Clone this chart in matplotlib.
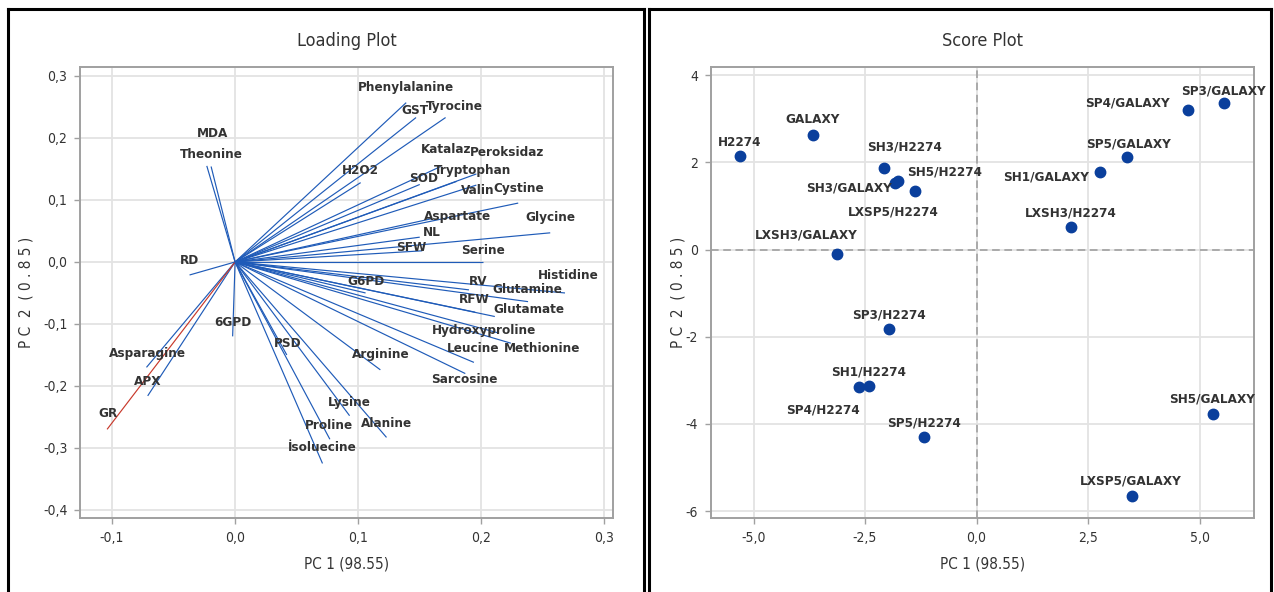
import matplotlib
matplotlib.use("Agg")
import matplotlib.pyplot as plt
from matplotlib import font_manager
from matplotlib.ticker import FixedLocator, FuncFormatter
from matplotlib.lines import Line2D

# ---------------- data ----------------
loading_names = [
    "Phenylalanine", "GST", "Tyrocine", "MDA", "Theonine", "H2O2", "Katalaz",
    "Peroksidaz", "SOD", "Tryptophan", "Valin", "Cystine", "Aspartate", "Glycine",
    "NL", "SFW", "Serine", "RD", "G6PD", "RV", "Glutamine", "Histidine", "RFW",
    "Glutamate", "6GPD", "Hydroxyproline", "Methionine", "PSD", "Leucine",
    "Arginine", "Asparagine", "Sarcosine", "APX", "GR", "Lysine", "Alanine",
    "Proline", "İsoluecine",
]
pc1_loading = [
    0.139, 0.147, 0.171, -0.0195, -0.023, 0.102, 0.167,
    0.196, 0.150, 0.180, 0.196, 0.230, 0.160, 0.256,
    0.150, 0.152, 0.201, -0.037, 0.106, 0.190, 0.238, 0.268, 0.195,
    0.211, -0.002, 0.213, 0.224, 0.042, 0.194,
    0.118, -0.072, 0.187, -0.071, -0.104, 0.093, 0.123,
    0.077, 0.071,
]
pc2_loading = [
    0.257, 0.233, 0.233, 0.154, 0.155, 0.128, 0.154,
    0.142, 0.125, 0.130, 0.124, 0.095, 0.070, 0.047,
    0.040, 0.018, 0.000, -0.021, -0.050, -0.045, -0.064, -0.050, -0.081,
    -0.088, -0.120, -0.114, -0.131, -0.150, -0.162,
    -0.174, -0.170, -0.180, -0.216, -0.270, -0.248, -0.283,
    -0.286, -0.325,
]
# where each loading name is written
loading_text_pc1 = [
    0.139, 0.146, 0.178, -0.018, -0.019, 0.102, 0.1715,
    0.221, 0.153, 0.193, 0.197, 0.230, 0.181, 0.256,
    0.160, 0.143, 0.201, -0.037, 0.1065, 0.1976, 0.237, 0.271, 0.194,
    0.239, -0.0016, 0.2024, 0.249, 0.043, 0.1935,
    0.1187, -0.0715, 0.186, -0.0707, -0.103, 0.0927, 0.1228,
    0.0764, 0.0707,
]
loading_text_pc2 = [
    0.281, 0.244, 0.250, 0.208, 0.174, 0.148, 0.181,
    0.176, 0.135, 0.148, 0.116, 0.118, 0.074, 0.071,
    0.048, 0.024, 0.019, 0.003, -0.031, -0.031, -0.044, -0.022, -0.060,
    -0.076, -0.097, -0.111, -0.139, -0.131, -0.140,
    -0.150, -0.147, -0.189, -0.1935, -0.245, -0.226, -0.260,
    -0.263, -0.300,
]

score_names = [
    "H2274", "GALAXY", "SH3/H2274", "SH3/GALAXY", "LXSP5/H2274", "SH5/H2274",
    "LXSH3/GALAXY", "SP4/GALAXY", "SP3/GALAXY", "SP5/GALAXY", "SH1/GALAXY",
    "LXSH3/H2274", "SP3/H2274", "SH1/H2274", "SP4/H2274", "SP5/H2274",
    "SH5/GALAXY", "LXSP5/GALAXY",
]
pc1_score = [
    -5.31, -3.66, -2.07, -1.83, -1.76, -1.38,
    -3.12, 4.73, 5.545, 3.38, 2.765,
    2.115, -1.96, -2.42, -2.64, -1.18,
    5.29, 3.475,
]
pc2_score = [
    2.15, 2.64, 1.87, 1.53, 1.57, 1.34,
    -0.09, 3.20, 3.37, 2.12, 1.77,
    0.52, -1.83, -3.14, -3.16, -4.31,
    -3.77, -5.65,
]
score_text_pc1 = [
    -5.31, -3.67, -1.61, -2.86, -1.86, -0.71,
    -3.81, 3.39, 5.545, 3.41, 1.55,
    2.115, -1.97, -2.42, -3.45, -1.18,
    5.28, 3.46,
]
score_text_pc2 = [
    2.45, 2.98, 2.35, 1.41, 0.86, 1.77,
    0.33, 3.37, 3.64, 2.42, 1.66,
    0.84, -1.49, -2.80, -3.69, -3.99,
    -3.44, -5.30,
]

loading_xticks = [-0.1, 0.0, 0.1, 0.2, 0.3]
loading_yticks = [-0.4, -0.3, -0.2, -0.1, 0.0, 0.1, 0.2, 0.3]
score_xticks = [-5.0, -2.5, 0.0, 2.5, 5.0]
score_yticks = [-6, -4, -2, 0, 2, 4]

# ---------------- fonts ----------------
available = {f.name for f in font_manager.fontManager.ttflist}
if "Liberation Sans Narrow" in available:
    FAMILY = ["Liberation Sans Narrow", "DejaVu Sans"]
    STRETCH = "normal"
else:
    FAMILY = ["DejaVu Sans"]
    STRETCH = "condensed"
plt.rcParams["font.family"] = FAMILY
plt.rcParams["font.stretch"] = STRETCH

TEXT = "#333333"
GRID = "#e3e3e3"
SPINE = "#a0a0a0"
VEC = "#1f5bb8"
DOT = "#0a3f9c"
LABEL_SIZE = 9.6


def comma_fmt(decimals):
    def f(v, _pos):
        s = f"{v:.{decimals}f}".replace(".", ",")
        if s.startswith("-") and float(v) == 0:
            s = s[1:]
        return s
    return FuncFormatter(f)


def style_axes(ax, xticks, yticks, xdec, ydec):
    ax.xaxis.set_major_locator(FixedLocator(xticks))
    ax.yaxis.set_major_locator(FixedLocator(yticks))
    ax.xaxis.set_major_formatter(comma_fmt(xdec))
    ax.yaxis.set_major_formatter(comma_fmt(ydec))
    ax.grid(True, color=GRID, linewidth=1.3, zorder=0)
    ax.set_axisbelow(True)
    for sp in ax.spines.values():
        sp.set_color(SPINE)
        sp.set_linewidth(1.4)
    ax.tick_params(axis="both", colors=SPINE, labelcolor=TEXT, labelsize=10,
                   length=4, width=1, direction="out", pad=5)
    ax.tick_params(top=False, right=False)


fig = plt.figure(figsize=(12.74, 5.92), dpi=100)
W, H = 1274.0, 592.0

# ---------------- loading plot ----------------
axL = fig.add_axes([80 / W, 1 - 518 / H, 533 / W, 451 / H])
axL.set_xlim(-0.126, 0.307)
axL.set_ylim(-0.413, 0.3145)
style_axes(axL, loading_xticks, loading_yticks, 1, 1)

for name, x, y in zip(loading_names, pc1_loading, pc2_loading):
    col = "#c8392b" if name == "GR" else VEC
    axL.plot([0, x], [0, y], color=col, linewidth=0.85, zorder=3,
             solid_capstyle="butt")
for name, x, y in zip(loading_names, loading_text_pc1, loading_text_pc2):
    axL.text(x, y, name, ha="center", va="center", fontsize=LABEL_SIZE,
             fontweight="bold", color=TEXT, zorder=4)

axL.set_title("Loading Plot", fontsize=13, color=TEXT, pad=15)
axL.set_xlabel("PC 1 (98.55)", fontsize=11, color=TEXT)
axL.set_ylabel("P C  2  ( 0 . 8 5 )", fontsize=11, color=TEXT)
axL.xaxis.set_label_coords(0.5, -0.086)
axL.yaxis.set_label_coords(-0.088, 0.5)

# ---------------- score plot ----------------
axR = fig.add_axes([710.7 / W, 1 - 518 / H, 543.3 / W, 451 / H])
axR.set_xlim(-5.96, 6.22)
axR.set_ylim(-6.16, 4.19)
style_axes(axR, score_xticks, score_yticks, 1, 0)

axR.axhline(0, color="#9a9a9a", linewidth=1.1, linestyle=(0, (5, 3)), zorder=1)
axR.axvline(0, color="#9a9a9a", linewidth=1.1, linestyle=(0, (5, 3)), zorder=1)
axR.plot(pc1_score, pc2_score, linestyle="none", marker="o", markersize=7.5,
         color=DOT, markeredgecolor=DOT, zorder=3)
for name, x, y in zip(score_names, score_text_pc1, score_text_pc2):
    axR.text(x, y, name, ha="center", va="center", fontsize=LABEL_SIZE,
             fontweight="bold", color=TEXT, zorder=4)

axR.set_title("Score Plot", fontsize=13, color=TEXT, pad=15)
axR.set_xlabel("PC 1 (98.55)", fontsize=11, color=TEXT)
axR.set_ylabel("P C  2  ( 0 . 8 5 )", fontsize=11, color=TEXT)
axR.xaxis.set_label_coords(0.5, -0.086)
axR.yaxis.set_label_coords(-0.046, 0.5)

# ---------------- panel frames ----------------
def frame(x0, x1, y_top):
    kw = dict(color="black", linewidth=2.2, transform=fig.transFigure)
    fig.add_artist(Line2D([x0 / W, x1 / W], [1 - y_top / H] * 2, **kw))
    fig.add_artist(Line2D([x0 / W] * 2, [1 - y_top / H, 0], **kw))
    fig.add_artist(Line2D([x1 / W] * 2, [1 - y_top / H, 0], **kw))

frame(8, 644, 9)
frame(649, 1271, 9)

fig.savefig("out.png", dpi=100, facecolor="white")
